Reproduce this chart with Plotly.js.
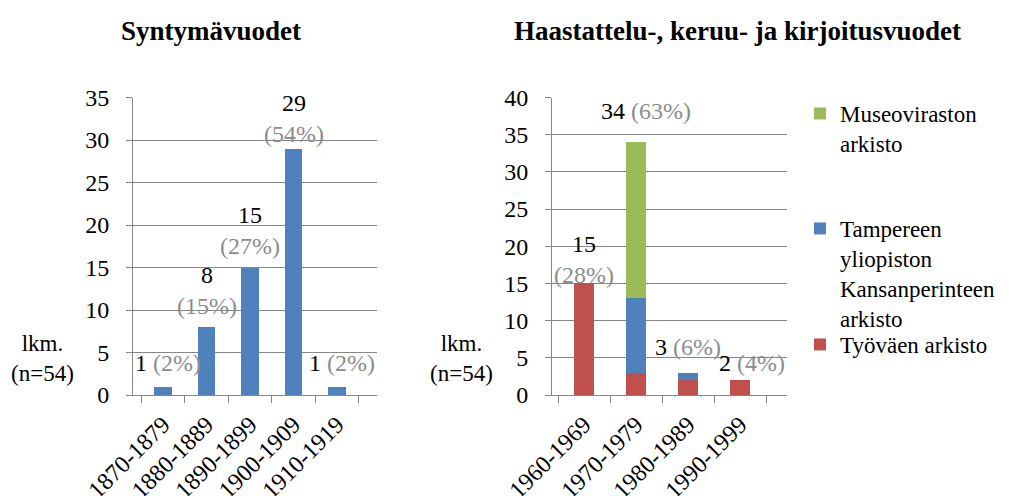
<!DOCTYPE html>
<html>
<head>
<meta charset="utf-8">
<script src="https://cdn.plot.ly/plotly-3.0.1.min.js"></script>
<style>html,body{margin:0;padding:0;background:#fff;} #chart{width:1019px;height:496px;}</style>
</head>
<body>
<div id="chart"></div>
<script>
// ---- data ----
const birthCats = ['1870-1879', '1880-1889', '1890-1899', '1900-1909', '1910-1919'];
const birthCounts = [1, 8, 15, 29, 1];
const birthPct = ['2%', '15%', '27%', '54%', '2%'];

const yearCats = ['1960-1969', '1970-1979', '1980-1989', '1990-1999'];
const tyovaen = [15, 3, 2, 2];
const tampere = [0, 10, 1, 0];
const museo = [0, 21, 0, 0];
const yearTotals = [15, 34, 3, 2];
const yearPct = ['28%', '63%', '6%', '4%'];

const titleLeft = 'Syntymävuodet';
const titleRight = 'Haastattelu-, keruu- ja kirjoitusvuodet';
const yLabel = 'lkm.<br>(n=54)';
const nameMuseo = 'Museoviraston<br>arkisto';
const nameTampere = 'Tampereen<br>yliopiston<br>Kansanperinteen<br>arkisto';
const nameTyovaen = 'Työväen arkisto';

// ---- styles ----
const FONT = 'Liberation Serif';
const GRID = '#878787';
const GRAYTXT = '#8c8c8c';
const BLUE = '#4F81BD', RED = '#C0504D', GREEN = '#9BBB59';
const W = 1019, H = 496;
const px = v => v / W;
const py = v => 1 - v / H;

const traces = [
  {type: 'bar', x: birthCats, y: birthCounts, xaxis: 'x', yaxis: 'y',
   marker: {color: BLUE}, showlegend: false, hoverinfo: 'none'},
  {type: 'bar', name: nameTyovaen, x: yearCats, y: tyovaen, xaxis: 'x2', yaxis: 'y2',
   marker: {color: RED}, legend: 'legend3', hoverinfo: 'none'},
  {type: 'bar', name: nameTampere, x: yearCats, y: tampere, xaxis: 'x2', yaxis: 'y2',
   marker: {color: BLUE}, legend: 'legend2', hoverinfo: 'none'},
  {type: 'bar', name: nameMuseo, x: yearCats, y: museo, xaxis: 'x2', yaxis: 'y2',
   marker: {color: GREEN}, legend: 'legend', hoverinfo: 'none'}
];

function lbl(n, p, wrap) {
  return n + (wrap ? '<br>' : ' ') + '<span style="color:' + GRAYTXT + '">(' + p + ')</span>';
}

const annFont = {family: FONT, size: 24, color: '#000'};
const annotations = [];
// label wrapping / lift (style only)
const birthWrap = [false, true, true, true, false];
const birthLift = [9, 6, 7, 0, 9];
const birthXShift = [5, 0, 0, 0, 5];
birthCats.forEach((c, i) => annotations.push({
  xref: 'x', yref: 'y', x: c, y: birthCounts[i], text: lbl(birthCounts[i], birthPct[i], birthWrap[i]),
  showarrow: false, yanchor: 'bottom', yshift: birthLift[i], xshift: birthXShift[i], font: annFont
}));
const yearWrap = [true, false, false, false];
const yearLift = [-7, 16, 11, 2];
const yearXShift = [0, 10, 0, 12];
yearCats.forEach((c, i) => annotations.push({
  xref: 'x2', yref: 'y2', x: c, y: yearTotals[i], text: lbl(yearTotals[i], yearPct[i], yearWrap[i]),
  showarrow: false, yanchor: 'bottom', yshift: yearLift[i], xshift: yearXShift[i], font: annFont
}));
// titles
annotations.push({xref: 'paper', yref: 'paper', x: px(211), y: py(31), text: '<b>' + titleLeft + '</b>',
  showarrow: false, xanchor: 'center', yanchor: 'middle', font: {family: FONT, size: 27, color: '#000'}});
annotations.push({xref: 'paper', yref: 'paper', x: px(737), y: py(31), text: '<b>' + titleRight + '</b>',
  showarrow: false, xanchor: 'center', yanchor: 'middle', font: {family: FONT, size: 27, color: '#000'}});
// y labels
[42, 461].forEach(cx => annotations.push({xref: 'paper', yref: 'paper', x: px(cx), y: py(358), text: yLabel,
  showarrow: false, xanchor: 'center', yanchor: 'middle', font: {family: FONT, size: 23, color: '#000'}}));

const xCommon = {
  type: 'category', showgrid: false, showline: true, linecolor: GRID, linewidth: 1,
  ticks: 'outside', tickson: 'boundaries', ticklen: 7, tickcolor: GRID, tickangle: -45,
  ticklabelstandoff: 5,
  tickfont: {family: FONT, size: 24, color: '#000'}, fixedrange: true
};
const yCommon = {
  showgrid: true, gridcolor: GRID, gridwidth: 1, showline: true, linecolor: GRID, linewidth: 1,
  zeroline: false, ticks: 'outside', ticklen: 6, tickcolor: GRID, dtick: 5,
  ticklabelstandoff: 12,
  tickfont: {family: FONT, size: 24, color: '#000'}, fixedrange: true
};
const legFont = {family: FONT, size: 23, color: '#000'};
const legBase = {xanchor: 'left', yanchor: 'top', font: legFont, bgcolor: 'rgba(0,0,0,0)', valign: 'top',
  borderwidth: 0};

const layout = {
  width: W, height: H,
  margin: {l: 0, r: 0, t: 0, b: 0},
  paper_bgcolor: '#fff', plot_bgcolor: '#fff',
  barmode: 'stack', bargap: 0.6,
  font: {family: FONT, color: '#000'},
  xaxis: Object.assign({}, xCommon, {domain: [px(133), px(377)], anchor: 'y'}),
  yaxis: Object.assign({}, yCommon, {domain: [1 - 395 / H, 1 - 97.5 / H], range: [0, 35], anchor: 'x'}),
  xaxis2: Object.assign({}, xCommon, {domain: [px(552), px(787)], anchor: 'y2'}),
  yaxis2: Object.assign({}, yCommon, {domain: [1 - 395 / H, 1 - 97.5 / H], range: [0, 40], anchor: 'x2'}),
  legend: Object.assign({}, legBase, {x: px(800), y: py(92)}),
  legend2: Object.assign({}, legBase, {x: px(800), y: py(207)}),
  legend3: Object.assign({}, legBase, {x: px(800), y: py(323)}),
  annotations: annotations
};

Plotly.newPlot('chart', traces, layout, {staticPlot: true, displayModeBar: false});
</script>
</body>
</html>
